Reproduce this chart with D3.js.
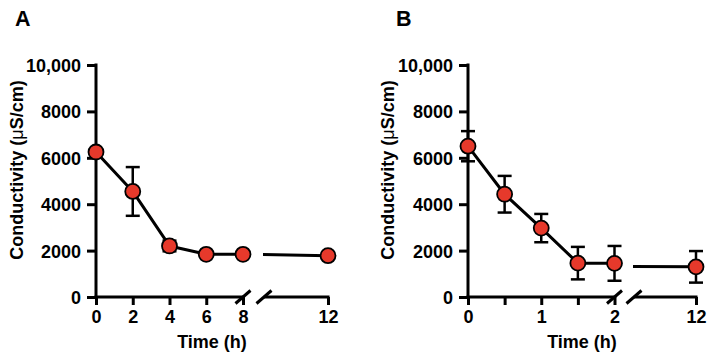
<!DOCTYPE html>
<html>
<head>
<meta charset="utf-8">
<script src="https://cdn.jsdelivr.net/npm/d3@7"></script>
<style>
  html, body { margin: 0; padding: 0; background: #fff; }
  svg { display: block; }
  svg text { font-family: "Liberation Sans", Arial, Helvetica, sans-serif; font-weight: bold; }
</style>
</head>
<body>
<svg id="chart" width="714" height="358"></svg>
<script>
// ---- Data ----
const yTicks = [0, 2000, 4000, 6000, 8000, 10000];
const yTickLabels = ["0", "2000", "4000", "6000", "8000", "10,000"];

// Panel A
const timeA = [0, 2, 4, 6, 8, 12];
const meanA = [6250, 4550, 2200, 1840, 1840, 1780];
const errA  = [0, 1050, 230, 0, 0, 0];
const ticksA = [0, 2, 4, 6, 8, 12];
const tickLabelsA = ["0", "2", "4", "6", "8", "12"];

// Panel B
const timeB = [0, 0.5, 1, 1.5, 2, 12];
const meanB = [6500, 4430, 2970, 1460, 1450, 1300];
const errB  = [650, 790, 610, 700, 750, 680];
const ticksB = [0, 0.5, 1, 1.5, 2, 12];
const tickLabelsB = ["0", "", "1", "", "2", "12"];

const svg = d3.select("#chart");
const RED = "#e6392b";
const FONT = '"Liberation Sans", Arial, Helvetica, sans-serif';

function styleText(sel, size) {
  return sel.attr("fill", "#000").style("font-family", FONT)
    .style("font-size", size + "px").style("font-weight", "bold");
}

function drawPanel(opt) {
  const g = svg.append("g");
  const y = d3.scaleLinear().domain([0, 10000]).range([297, 65]);
  const x1 = d3.scaleLinear().domain(opt.seg1Domain).range(opt.seg1Range);
  const x2 = d3.scaleLinear().domain(opt.seg2Domain).range(opt.seg2Range);
  const xOf = t => t <= opt.seg1Domain[1] ? x1(t) : x2(t);

  const id = opt.id;
  const defs = svg.append("defs");
  defs.append("clipPath").attr("id", id + "c1").append("rect")
    .attr("x", opt.seg1Range[0] - 20).attr("y", 0)
    .attr("width", opt.seg1Range[1] - opt.seg1Range[0] + 20).attr("height", 358);
  defs.append("clipPath").attr("id", id + "c2").append("rect")
    .attr("x", opt.seg2Range[0] - 1).attr("y", 0)
    .attr("width", opt.seg2Range[1] - opt.seg2Range[0] + 30).attr("height", 358);

  // Y axis
  const yAxis = d3.axisLeft(y).tickValues(yTicks)
    .tickFormat((d, i) => yTickLabels[i]).tickSize(9).tickPadding(6);
  const ya = g.append("g").attr("transform", `translate(${opt.seg1Range[0]},0)`).call(yAxis)
    .attr("font-family", null).attr("font-size", null);
  ya.select(".domain").remove();
  ya.append("line").attr("x1", 0).attr("x2", 0).attr("y1", 63.5).attr("y2", 298.5)
    .attr("stroke", "#000").attr("stroke-width", 3);
  ya.selectAll(".tick line").attr("stroke", "#000").attr("stroke-width", 3);
  styleText(ya.selectAll(".tick text"), 18).attr("dy", "0.36em");

  // X axis segments
  const xg = g.append("g").attr("transform", "translate(0,297)");
  [[x1, opt.ticks.filter(t => t <= opt.seg1Domain[1])],
   [x2, opt.ticks.filter(t => t > opt.seg1Domain[1])]].forEach(([sc, tv]) => {
    const ax = d3.axisBottom(sc).tickValues(tv)
      .tickFormat(d => opt.tickLabels[opt.ticks.indexOf(d)]).tickSize(8).tickPadding(5);
    const a = xg.append("g").call(ax).attr("font-family", null).attr("font-size", null);
    a.select(".domain").remove();
    a.selectAll(".tick line").attr("stroke", "#000").attr("stroke-width", 3);
    styleText(a.selectAll(".tick text"), 18).attr("dy", "0.72em");
  });
  xg.append("line").attr("x1", opt.seg1Range[0] - 1.5).attr("x2", opt.seg1Range[1])
    .attr("stroke", "#000").attr("stroke-width", 3);
  xg.append("line").attr("x1", opt.seg2Range[0]).attr("x2", opt.seg2Range[1] + 1.5)
    .attr("stroke", "#000").attr("stroke-width", 3);
  [opt.seg1Range[1], opt.seg2Range[0]].forEach(cx => {
    xg.append("line").attr("x1", cx - 7.5).attr("y1", 6.5).attr("x2", cx + 7.5).attr("y2", -6.5)
      .attr("stroke", "#000").attr("stroke-width", 3);
  });

  // data lines, per segment, clipped
  const pts = opt.time.map((t, i) => ({ t, m: opt.mean[i], e: opt.err[i] }));
  const line1 = d3.line().x(d => x1(d.t)).y(d => y(d.m));
  const line2 = d3.line().x(d => x2(d.t)).y(d => y(d.m));
  const seg1Pts = pts.filter(d => d.t <= opt.seg1Domain[1]);
  const lastTwo = pts.slice(-2);
  g.append("path").datum(seg1Pts).attr("d", line1).attr("fill", "none")
    .attr("stroke", "#000").attr("stroke-width", 3).attr("stroke-linejoin", "round")
    .attr("clip-path", `url(#${id}c1)`);
  g.append("path").datum(lastTwo).attr("d", line2).attr("fill", "none")
    .attr("stroke", "#000").attr("stroke-width", 3)
    .attr("clip-path", `url(#${id}c2)`);

  // error bars
  const eb = g.append("g");
  pts.filter(d => d.e > 0).forEach(d => {
    const cx = xOf(d.t);
    eb.append("line").attr("x1", cx).attr("x2", cx).attr("y1", y(d.m + d.e)).attr("y2", y(d.m - d.e))
      .attr("stroke", "#000").attr("stroke-width", 2.5);
    [d.m + d.e, d.m - d.e].forEach(v => {
      eb.append("line").attr("x1", cx - 7).attr("x2", cx + 7).attr("y1", y(v)).attr("y2", y(v))
        .attr("stroke", "#000").attr("stroke-width", 2.5);
    });
  });

  // markers
  g.selectAll("circle.pt").data(pts).enter().append("circle").attr("class", "pt")
    .attr("cx", d => xOf(d.t)).attr("cy", d => y(d.m)).attr("r", 7.5)
    .attr("fill", RED).attr("stroke", "#000").attr("stroke-width", 1.8);

  // titles
  const yt = styleText(g.append("text"), 18)
    .attr("transform", `translate(${opt.yTitleX},170) rotate(-90)`)
    .attr("text-anchor", "middle").attr("dominant-baseline", "central");
  yt.append("tspan").text("Conductivity (");
  yt.append("tspan").style("font-weight", "normal").text("μ");
  yt.append("tspan").text("S/cm)");
  styleText(g.append("text"), 18)
    .attr("x", (opt.seg1Range[0] + opt.seg2Range[1]) / 2).attr("y", 348)
    .attr("text-anchor", "middle").text("Time (h)");
  styleText(g.append("text"), 21.5)
    .attr("x", opt.letterX).attr("y", 26).text(opt.letter);
}

drawPanel({
  id: "A", letter: "A", letterX: 15, yTitleX: 17,
  time: timeA, mean: meanA, err: errA, ticks: ticksA, tickLabels: tickLabelsA,
  seg1Domain: [0, 8], seg1Range: [96, 243],
  seg2Domain: [8.5, 12], seg2Range: [264, 328]
});
drawPanel({
  id: "B", letter: "B", letterX: 396, yTitleX: 388,
  time: timeB, mean: meanB, err: errB, ticks: ticksB, tickLabels: tickLabelsB,
  seg1Domain: [0, 2], seg1Range: [468, 614.5],
  seg2Domain: [11, 12], seg2Range: [634, 696]
});
</script>
</body>
</html>
